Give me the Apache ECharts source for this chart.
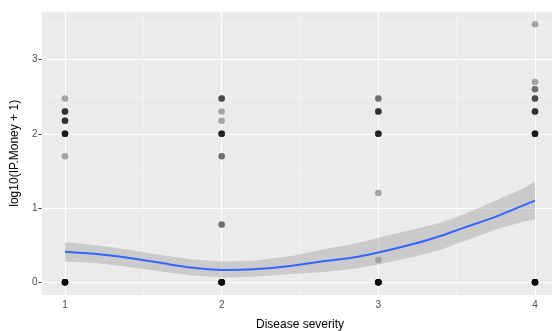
<!DOCTYPE html>
<html>
<head>
<meta charset="utf-8">
<script src="https://cdn.jsdelivr.net/npm/echarts@6/dist/echarts.min.js"></script>
<style>html,body{margin:0;padding:0;background:#fff}#c{width:552px;height:331px}</style>
</head>
<body>
<div id="c"></div>
<script>
// Points (with number of overlapping observations)
const severity = [1,1,1,1,1,1, 2,2,2,2,2,2,2, 3,3,3,3,3,3, 4,4,4,4,4,4,4];
const logMoney = [2.477,2.301,2.176,2.0,1.699,0, 2.477,2.301,2.176,2.0,1.699,0.778,0, 2.477,2.301,2.0,1.204,0.301,0, 3.477,2.699,2.602,2.477,2.301,2.0,0];
const overlap  = [1,4,4,6,1,10, 3,1,1,5,2,2,10, 2,4,5,1,1,10, 1,1,2,3,4,6,10];

// Loess smooth and its confidence band
const fitX   = [1.0,1.2,1.4,1.6,1.8,2.0,2.2,2.45,2.66,2.87,3.0,3.24,3.39,3.54,3.75,3.93,4.0];
const fitY   = [0.41,0.38,0.33,0.265,0.20,0.167,0.175,0.224,0.287,0.345,0.40,0.525,0.62,0.73,0.884,1.04,1.10];
const bandLo = [0.28,0.26,0.21,0.15,0.095,0.065,0.075,0.11,0.14,0.19,0.24,0.35,0.43,0.55,0.71,0.82,0.85];
const bandHi = [0.54,0.50,0.44,0.37,0.31,0.28,0.29,0.355,0.45,0.53,0.60,0.72,0.80,0.91,1.10,1.27,1.36];

// Ticks
const xTicks = [1,2,3,4];
const yTicks = [0,1,2,3];
const xMinor = [1.5,2.5,3.5];
const yMinor = [0.5,1.5,2.5,3.5];

const pts = [];
severity.forEach((s,i)=>{ for(let k=0;k<overlap[i];k++) pts.push([s, logMoney[i]]); });

const chart = echarts.init(document.getElementById('c'), null, {renderer:'canvas'});
const font = 'Liberation Sans, Arial, sans-serif';
chart.setOption({
  animation:false,
  grid:{left:41.5, top:11.7, right:-6.5, bottom:36.1, outerBoundsMode:'none', containLabel:false,
        show:true, backgroundColor:'#EBEBEB', borderWidth:0},
  xAxis:{
    type:'value', min:0.85, max:4.15,
    name:'Disease severity', nameLocation:'middle', nameGap:24,
    nameTextStyle:{color:'#000', fontSize:12, fontFamily:font},
    axisLine:{show:false},
    axisTick:{show:true, length:3, lineStyle:{color:'#333', width:1}, customValues:xTicks},
    axisLabel:{color:'#4D4D4D', fontSize:10, fontFamily:font, margin:5, customValues:xTicks},
    splitLine:{show:true, lineStyle:{color:'#fff', width:1.1}}
  },
  yAxis:{
    type:'value', min:-0.17, max:3.645,
    name:'log10(IP.Money + 1)', nameLocation:'middle', nameGap:21,
    nameTextStyle:{color:'#000', fontSize:12, fontFamily:font},
    axisLine:{show:false},
    axisTick:{show:true, length:3, lineStyle:{color:'#333', width:1}, customValues:yTicks},
    axisLabel:{color:'#4D4D4D', fontSize:10, fontFamily:font, margin:4, customValues:yTicks},
    splitLine:{show:true, lineStyle:{color:'#fff', width:1.1}}
  },
  series:[
    {
      type:'line', data:[], z:1, silent:true,
      markLine:{
        silent:true, symbol:'none', z:1, label:{show:false},
        lineStyle:{color:'#F5F5F5', width:0.6, type:'solid'},
        data: xMinor.map(v=>({xAxis:v})).concat(yMinor.map(v=>({yAxis:v})))
      }
    },
    {
      type:'scatter', data:pts, z:2, symbolSize:6.5,
      itemStyle:{color:'rgba(0,0,0,0.4)'}
    },
    {
      type:'custom', z:3, silent:true, data:[[0]],
      renderItem:function(params, api){
        const top = fitX.map((x,i)=>api.coord([x, bandHi[i]]));
        const bot = fitX.map((x,i)=>api.coord([x, bandLo[i]])).reverse();
        return {type:'polygon', shape:{points:top.concat(bot)},
                style:{fill:'rgba(153,153,153,0.4)'}};
      }
    },
    {
      type:'line', z:4, data:fitX.map((x,i)=>[x, fitY[i]]), smooth:0.3,
      showSymbol:false, silent:true,
      lineStyle:{color:'#3366FF', width:2}
    }
  ]
});
</script>
</body>
</html>
